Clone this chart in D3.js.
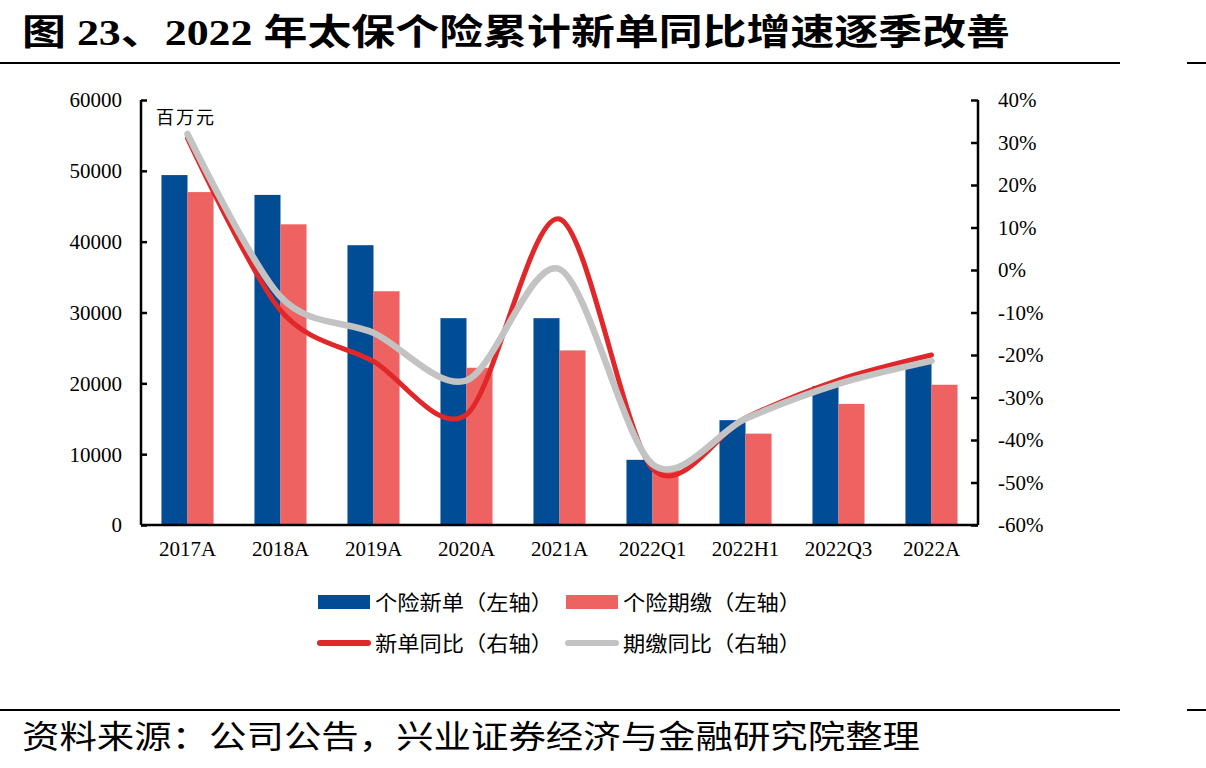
<!DOCTYPE html>
<html>
<head>
<meta charset="utf-8">
<script src="https://cdn.jsdelivr.net/npm/d3@7"></script>
<style>
  body { margin: 0; background: #fff; }
  svg text { fill: #000; }
</style>
</head>
<body>
<div id="chart"></div>
<script>
// chart data
var categories = ["2017A", "2018A", "2019A", "2020A", "2021A", "2022Q1", "2022H1", "2022Q3", "2022A"];
var newPremium = [49400, 46600, 39500, 29200, 29200, 9200, 14800, 19600, 22900];
var paidPremium = [47000, 42450, 33000, 22200, 24650, 8100, 12900, 17100, 19800];
var newYoy = [31, -9.5, -21.5, -34, 12, -46.7, -34.8, -25.9, -20];
var paidYoy = [32, -6.3, -14.8, -26, 0.2, -45.7, -35, -26.8, -21.4];
var leftTicks = [0, 10000, 20000, 30000, 40000, 50000, 60000];
var rightTicks = [-60, -50, -40, -30, -20, -10, 0, 10, 20, 30, 40];

var svgWidth = 1206;
var svgHeight = 768;

var plot = { left: 141, right: 978, top: 100, bottom: 525 };

var serif = "'Liberation Serif', 'Times New Roman', serif";
var cjk = "'Liberation Serif', 'Noto Sans CJK SC', serif";

var svg = d3.select("#chart")
  .append("svg")
  .attr("width", svgWidth)
  .attr("height", svgHeight);

// Title and rules
svg.append("text")
  .attr("x", 22)
  .attr("y", 45)
  .attr("font-family", cjk)
  .attr("font-weight", "bold")
  .attr("font-size", 36)
  .attr("textLength", 988)
  .attr("lengthAdjust", "spacingAndGlyphs")
  .text("图 23、2022 年太保个险累计新单同比增速逐季改善");

[63, 710].forEach(function(y) {
  svg.append("line").attr("x1", 0).attr("x2", 1120).attr("y1", y).attr("y2", y)
    .attr("stroke", "#000").attr("stroke-width", 2);
  svg.append("line").attr("x1", 1187).attr("x2", 1206).attr("y1", y).attr("y2", y)
    .attr("stroke", "#000").attr("stroke-width", 2);
});

svg.append("text")
  .attr("x", 22)
  .attr("y", 748)
  .attr("font-family", cjk)
  .attr("font-size", 32)
  .attr("textLength", 898)
  .attr("lengthAdjust", "spacingAndGlyphs")
  .text("资料来源：公司公告，兴业证券经济与金融研究院整理");

// Scales
var x0 = d3.scaleBand()
  .domain(categories)
  .range([plot.left, plot.right])
  .paddingInner(0.44)
  .paddingOuter(0.22);

var x1 = d3.scaleBand()
  .domain(["new", "paid"])
  .range([0, x0.bandwidth()]);

var yLeft = d3.scaleLinear()
  .domain([0, 60000])
  .range([plot.bottom, plot.top]);

var yRight = d3.scaleLinear()
  .domain([-60, 40])
  .range([plot.bottom, plot.top]);

// Bars
var groups = svg.append("g").selectAll("g")
  .data(categories)
  .enter()
  .append("g")
  .attr("transform", d => `translate(${x0(d)},0)`);

groups.append("rect")
  .attr("x", x1("new"))
  .attr("width", x1.bandwidth())
  .attr("y", (d, i) => yLeft(newPremium[i]))
  .attr("height", (d, i) => plot.bottom - yLeft(newPremium[i]))
  .attr("fill", "#004d96");

groups.append("rect")
  .attr("x", x1("paid"))
  .attr("width", x1.bandwidth())
  .attr("y", (d, i) => yLeft(paidPremium[i]))
  .attr("height", (d, i) => plot.bottom - yLeft(paidPremium[i]))
  .attr("fill", "#ef6262");

// Lines
var cx = d => x0(d) + x0.bandwidth() / 2;

var lineGen = function(values) {
  return d3.line()
    .x((d, i) => cx(categories[i]))
    .y(d => yRight(d))
    .curve(d3.curveCardinal.tension(0.1))(values);
};

svg.append("path")
  .attr("d", lineGen(newYoy))
  .attr("fill", "none")
  .attr("stroke", "#e0282b")
  .attr("stroke-width", 5)
  .attr("stroke-linecap", "round");

svg.append("path")
  .attr("d", lineGen(paidYoy))
  .attr("fill", "none")
  .attr("stroke", "#c3c3c3")
  .attr("stroke-width", 6.5)
  .attr("stroke-linecap", "round");

// Axes
var leftAxis = d3.axisRight(yLeft).tickValues(leftTicks).tickSize(6).tickFormat("");
svg.append("g")
  .attr("transform", `translate(${plot.left},0)`)
  .call(leftAxis)
  .call(g => g.select(".domain").attr("stroke-width", 2.5).attr("d", `M0,${plot.top}V${plot.bottom}`))
  .call(g => g.selectAll(".tick line").attr("stroke-width", 2.5));

svg.append("g").selectAll("text")
  .data(leftTicks)
  .enter()
  .append("text")
  .attr("x", 122)
  .attr("y", d => yLeft(d))
  .attr("dy", "0.35em")
  .attr("text-anchor", "end")
  .attr("font-family", serif)
  .attr("font-size", 21)
  .text(d => d);

var rightAxis = d3.axisLeft(yRight).tickValues(rightTicks).tickSize(7).tickFormat("");
svg.append("g")
  .attr("transform", `translate(${plot.right},0)`)
  .call(rightAxis)
  .call(g => g.select(".domain").attr("stroke-width", 2.5).attr("d", `M0,${plot.top}V${plot.bottom}`))
  .call(g => g.selectAll(".tick line").attr("stroke-width", 2.5));

svg.append("g").selectAll("text")
  .data(rightTicks)
  .enter()
  .append("text")
  .attr("x", 998)
  .attr("y", d => yRight(d))
  .attr("dy", "0.35em")
  .attr("font-family", serif)
  .attr("font-size", 21)
  .text(d => d + "%");

var bottomAxis = d3.axisBottom(x0).tickSize(0).tickPadding(16);
svg.append("g")
  .attr("transform", `translate(0,${plot.bottom})`)
  .call(bottomAxis)
  .call(g => g.select(".domain").attr("stroke-width", 2.5).attr("d", `M${plot.left},0H${plot.right}`))
  .call(g => g.selectAll("text").attr("font-family", serif).attr("font-size", 21).attr("fill", "#000"));

// Unit label
svg.append("text")
  .attr("x", 156)
  .attr("y", 124)
  .attr("font-family", cjk)
  .attr("font-size", 18)
  .attr("letter-spacing", 2)
  .text("百万元");

// Legend
var legendItems = [
  { label: "个险新单（左轴）", color: "#004d96", type: "rect", x: 318, y: 602 },
  { label: "个险期缴（左轴）", color: "#ef6262", type: "rect", x: 566, y: 602 },
  { label: "新单同比（右轴）", color: "#e0282b", type: "line", x: 318, y: 643 },
  { label: "期缴同比（右轴）", color: "#c3c3c3", type: "line", x: 566, y: 643 }
];

var legend = svg.append("g").selectAll("g")
  .data(legendItems)
  .enter()
  .append("g")
  .attr("transform", d => `translate(${d.x},${d.y})`);

legend.filter(d => d.type === "rect")
  .append("rect")
  .attr("x", 0)
  .attr("y", -7)
  .attr("width", 52)
  .attr("height", 14)
  .attr("fill", d => d.color);

legend.filter(d => d.type === "line")
  .append("line")
  .attr("x1", 2)
  .attr("x2", 50)
  .attr("y1", 0)
  .attr("y2", 0)
  .attr("stroke", d => d.color)
  .attr("stroke-width", 6)
  .attr("stroke-linecap", "round");

legend.append("text")
  .attr("x", 57)
  .attr("y", 0)
  .attr("dy", "0.36em")
  .attr("font-family", cjk)
  .attr("font-size", 21)
  .attr("textLength", 178)
  .attr("lengthAdjust", "spacingAndGlyphs")
  .text(d => d.label);
</script>
</body>
</html>
